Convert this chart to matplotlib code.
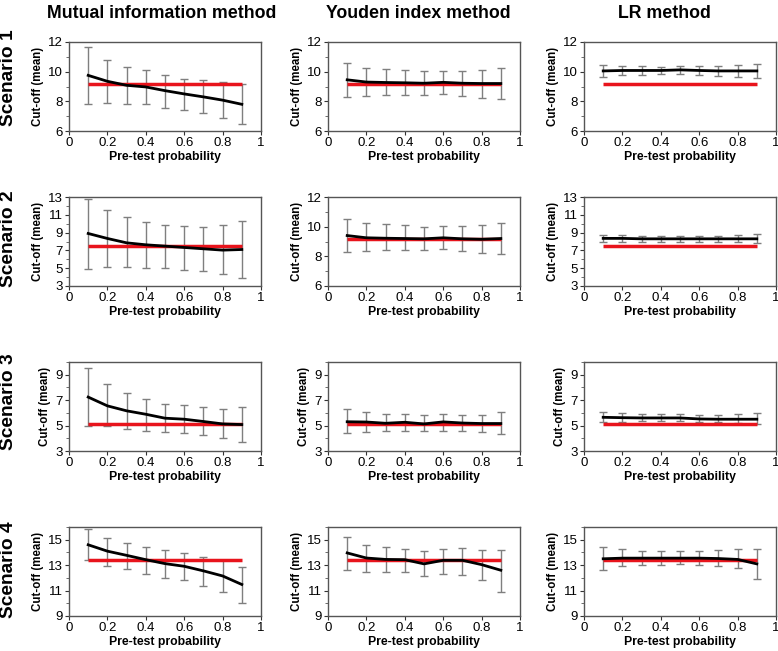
import matplotlib.pyplot as plt
from matplotlib.ticker import MultipleLocator

plt.rcParams['font.family'] = ['Liberation Sans', 'DejaVu Sans']

# pre-test probabilities
prob = [0.1, 0.2, 0.3, 0.4, 0.5, 0.6, 0.7, 0.8, 0.9]

methods = ["Mutual information method", "Youden index method", "LR method"]
scenarios = ["Scenario 1", "Scenario 2", "Scenario 3", "Scenario 4"]

# true cut-off (red line) per panel, rows = scenarios, cols = methods
true_cut = [[9.2, 9.2, 9.2],
            [7.5, 9.2, 7.5],
            [5.15, 5.15, 5.15],
            [13.4, 13.4, 13.4]]

# scenario 1
mi1_mean = [9.75, 9.35, 9.08, 8.97, 8.72, 8.50, 8.30, 8.08, 7.80]
mi1_lo = [7.80, 7.86, 7.80, 7.80, 7.54, 7.40, 7.20, 6.86, 6.46]
mi1_hi = [11.66, 10.76, 10.30, 10.08, 9.78, 9.53, 9.44, 9.28, 9.17]
yi1_mean = [9.45, 9.30, 9.27, 9.25, 9.22, 9.28, 9.22, 9.20, 9.20]
yi1_lo = [8.27, 8.38, 8.42, 8.42, 8.42, 8.50, 8.38, 8.25, 8.15]
yi1_hi = [10.60, 10.25, 10.15, 10.10, 10.02, 10.05, 10.05, 10.12, 10.25]
lr1_mean = [10.05, 10.08, 10.08, 10.08, 10.12, 10.08, 10.05, 10.05, 10.05]
lr1_lo = [9.62, 9.75, 9.80, 9.82, 9.85, 9.80, 9.72, 9.65, 9.55]
lr1_hi = [10.45, 10.38, 10.35, 10.30, 10.35, 10.35, 10.35, 10.45, 10.52]

# scenario 2
mi2_mean = [8.90, 8.34, 7.85, 7.63, 7.48, 7.33, 7.18, 7.03, 7.10]
mi2_lo = [4.95, 5.10, 5.10, 5.05, 5.00, 4.85, 4.65, 4.30, 3.85]
mi2_hi = [12.80, 11.50, 10.70, 10.15, 9.90, 9.70, 9.60, 9.80, 10.25]
yi2_mean = [9.40, 9.25, 9.22, 9.20, 9.18, 9.25, 9.18, 9.15, 9.20]
yi2_lo = [8.30, 8.35, 8.40, 8.42, 8.42, 8.50, 8.35, 8.25, 8.15]
yi2_hi = [10.55, 10.25, 10.15, 10.08, 10.00, 10.05, 10.05, 10.10, 10.25]
lr2_mean = [8.35, 8.35, 8.30, 8.30, 8.30, 8.30, 8.30, 8.30, 8.30]
lr2_lo = [7.95, 8.00, 8.00, 8.00, 8.00, 8.00, 7.98, 7.95, 7.85]
lr2_hi = [8.75, 8.70, 8.65, 8.65, 8.65, 8.65, 8.65, 8.70, 8.85]

# scenario 3
mi3_mean = [7.24, 6.55, 6.16, 5.89, 5.58, 5.50, 5.32, 5.13, 5.08]
mi3_lo = [4.97, 4.97, 4.74, 4.60, 4.47, 4.40, 4.24, 4.00, 3.68]
mi3_hi = [9.53, 8.26, 7.55, 7.08, 6.68, 6.63, 6.50, 6.32, 6.45]
yi3_mean = [5.30, 5.28, 5.18, 5.26, 5.13, 5.29, 5.20, 5.16, 5.16]
yi3_lo = [4.40, 4.53, 4.58, 4.60, 4.60, 4.60, 4.60, 4.47, 4.32]
yi3_hi = [6.29, 6.03, 5.92, 5.92, 5.82, 5.92, 5.87, 5.84, 6.05]
lr3_mean = [5.65, 5.62, 5.60, 5.60, 5.60, 5.52, 5.50, 5.50, 5.50]
lr3_lo = [5.25, 5.30, 5.35, 5.35, 5.35, 5.30, 5.25, 5.20, 5.10]
lr3_hi = [6.05, 5.95, 5.90, 5.90, 5.90, 5.80, 5.85, 5.90, 6.00]

# scenario 4
mi4_mean = [14.60, 14.10, 13.77, 13.43, 13.12, 12.91, 12.55, 12.15, 11.48]
mi4_lo = [13.39, 12.94, 12.73, 12.34, 12.00, 11.82, 11.38, 10.90, 10.04]
mi4_hi = [15.86, 15.16, 14.77, 14.43, 14.17, 13.96, 13.65, 13.39, 12.86]
yi4_mean = [13.96, 13.56, 13.45, 13.43, 13.10, 13.38, 13.38, 13.04, 12.60]
yi4_lo = [12.60, 12.50, 12.50, 12.50, 12.13, 12.34, 12.20, 11.82, 10.90]
yi4_hi = [15.20, 14.60, 14.43, 14.30, 14.12, 14.30, 14.35, 14.22, 14.22]
lr4_mean = [13.50, 13.55, 13.55, 13.55, 13.55, 13.55, 13.52, 13.45, 13.10]
lr4_lo = [12.65, 12.95, 13.05, 13.05, 13.10, 13.05, 12.95, 12.75, 11.90]
lr4_hi = [14.45, 14.25, 14.10, 14.10, 14.10, 14.10, 14.20, 14.25, 14.30]

# y axis ranges per panel (row, col)
ylims = [[(6, 12), (6, 12), (6, 12)],
         [(3, 13), (6, 12), (3, 13)],
         [(3, 10), (3, 10), (3, 10)],
         [(9, 16), (9, 16), (9, 16)]]
yticks = [[[6, 8, 10, 12]] * 3,
          [[3, 5, 7, 9, 11, 13], [6, 8, 10, 12], [3, 5, 7, 9, 11, 13]],
          [[3, 5, 7, 9]] * 3,
          [[9, 11, 13, 15]] * 3]

panels = [
    [(mi1_mean, mi1_lo, mi1_hi), (yi1_mean, yi1_lo, yi1_hi), (lr1_mean, lr1_lo, lr1_hi)],
    [(mi2_mean, mi2_lo, mi2_hi), (yi2_mean, yi2_lo, yi2_hi), (lr2_mean, lr2_lo, lr2_hi)],
    [(mi3_mean, mi3_lo, mi3_hi), (yi3_mean, yi3_lo, yi3_hi), (lr3_mean, lr3_lo, lr3_hi)],
    [(mi4_mean, mi4_lo, mi4_hi), (yi4_mean, yi4_lo, yi4_hi), (lr4_mean, lr4_lo, lr4_hi)],
]

W, H = 778, 651
fig = plt.figure(figsize=(W / 100, H / 100), dpi=100)

col_left = [69, 328, 584]
row_top = [42, 197, 362, 527]
ax_w, ax_h = 192, 89

for r in range(4):
    for c in range(3):
        ax = fig.add_axes([col_left[c] / W, 1 - (row_top[r] + ax_h) / H, ax_w / W, ax_h / H])
        mean, lo, hi = panels[r][c]
        err = [[m - l for m, l in zip(mean, lo)], [h - m for m, h in zip(mean, hi)]]
        ax.errorbar(prob, mean, yerr=err, fmt="none", ecolor="#7f7f7f",
                    elinewidth=1.0, capsize=3, capthick=1.0, zorder=2)
        ax.plot([prob[0], prob[-1]], [true_cut[r][c]] * 2, color="#e8141c",
                lw=2.5, zorder=3, solid_capstyle="butt")
        ax.plot(prob, mean, color="black", lw=2.0, zorder=4)

        ax.set_xlim(0, 1)
        ax.set_ylim(*ylims[r][c])
        ax.set_xticks([0, 0.2, 0.4, 0.6, 0.8, 1])
        ax.set_xticklabels(["0", "0.2", "0.4", "0.6", "0.8", "1"])
        ax.set_yticks(yticks[r][c])
        ax.yaxis.set_minor_locator(MultipleLocator(1))
        ax.tick_params(which="major", direction="out", length=3, width=0.8,
                       labelsize=9.5, colors="#333333", labelcolor="black", pad=1.5)
        ax.tick_params(which="minor", direction="out", length=2, width=0.6, colors="#555555")
        for sp in ax.spines.values():
            sp.set_color("#555555")
            sp.set_linewidth(1.0)
        ax.set_xlabel("Pre-test probability", fontsize=8.8, fontweight="bold", labelpad=1)
        ax.set_ylabel("Cut-off (mean)", fontsize=8.3, fontweight="bold", labelpad=3)

# column titles
title_x = [162, 418, 664]
for c in range(3):
    fig.text(title_x[c] / W, 1 - 13 / H, methods[c], ha="center", va="center",
             fontsize=12.8, fontweight="bold")

# scenario labels
scen_y = [78, 239, 402, 570]
for r in range(4):
    fig.text(9 / W, 1 - scen_y[r] / H, scenarios[r], ha="center", va="center",
             rotation=90, fontsize=13.8, fontweight="bold")

fig.savefig("out.png", dpi=100)
